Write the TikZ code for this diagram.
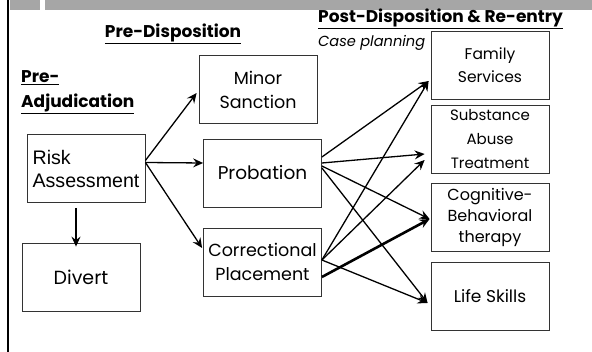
\documentclass[tikz,border=0pt]{standalone}
\usepackage{fontspec}
\setmainfont{Poppins}
\newfontfamily\arialfont{Liberation Sans}
\usetikzlibrary{arrows.meta}

\begin{document}
\begin{tikzpicture}[x=1pt, y=-1pt,
    stage/.style={draw=black!80, line width=0.8pt, minimum width=118pt, minimum height=68pt,
      inner sep=0pt, align=center, font=\fontsize{17.5}{24}\selectfont},
    heading/.style={font=\fontsize{17}{25}\selectfont\bfseries, inner sep=0pt},
    flow/.style={-{Stealth[length=10pt, width=9pt, inset=3.5pt]}, line width=1.3pt}]
  \useasboundingbox (0,0) rectangle (592,352);

  % Title bar and left rule
  \fill[gray!70] (10,0) rectangle (40,10);
  \fill[gray!70] (45,0) rectangle (592,10);
  \fill[black] (7,0) rectangle (9,352);

  % Stage headings
  \node[heading] (predisp) at (173,34) {\underline{Pre-Disposition}};
  \node[heading, anchor=west, align=left] (preadj) at (21,92) {\underline{Pre-}\\\underline{Adjudication}};
  \node[heading, anchor=west] (postdisp) at (318,19) {\underline{Post-Disposition \& Re-entry}};
  \node[anchor=west, inner sep=0pt, font=\fontsize{14.6}{18}\selectfont\itshape] (caseplan) at (318,43) {Case planning};

  % Pre-adjudication boxes
  \node[stage, align=left, font=\arialfont\fontsize{19.6}{23}\selectfont] (risk) at (86,168.5) {Risk\\Assessment};
  \node[stage, font=\fontsize{19}{24}\selectfont] (divert) at (81,277) {Divert};

  % Pre-disposition boxes
  \node[stage] (minor) at (258,89.5) {Minor\\Sanction};
  \node[stage, font=\fontsize{18.5}{24}\selectfont] (probation) at (262.5,173) {Probation};
  \node[stage] (placement) at (262.5,262) {Correctional\\Placement};

  % Post-disposition boxes
  \node[stage, font=\fontsize{15.5}{23}\selectfont] (family) at (490,65) {Family\\Services};
  \node[stage, font=\fontsize{15}{24}\selectfont] (substance) at (490,139) {Substance\\Abuse\\Treatment};
  \node[stage, font=\fontsize{16}{21}\selectfont] (cognitive) at (490,217.5) {Cognitive-\\Behavioral\\therapy};
  \node[stage, font=\fontsize{17}{24}\selectfont] (skills) at (490,296.5) {Life Skills};

  % From risk assessment
  \draw[flow] ([yshift=8pt]risk.east) -- ([xshift=-2pt, yshift=-3.5pt]minor.west);
  \draw[flow] ([yshift=6pt]risk.east) -- ([yshift=10pt]probation.west);
  \draw[flow] ([yshift=6pt]risk.east) -- ([xshift=-1pt, yshift=14pt]placement.west);
  \draw[flow] ([xshift=-10pt, yshift=-5pt]risk.south) -- ([xshift=-5pt, yshift=-4pt]divert.north);

  % From probation
  \draw[flow] ([yshift=16pt]probation.east) -- ([xshift=-2pt, yshift=-16pt]family.west);
  \draw[flow] ([yshift=10pt]probation.east) -- ([xshift=-6pt, yshift=-15pt]substance.west);
  \draw[flow] ([yshift=7pt]probation.east) -- ([xshift=-1pt, yshift=-1.5pt]cognitive.west);
  \draw[flow] ([yshift=5pt]probation.east) -- ([xshift=-3pt, yshift=-6.5pt]skills.west);

  % From correctional placement
  \draw[flow] ([yshift=2pt]placement.east) -- ([xshift=-2pt, yshift=-16pt]family.west);
  \draw[flow] ([yshift=2pt]placement.east) -- ([xshift=-6pt, yshift=-21pt]substance.west);
  \draw[flow] ([yshift=2pt]placement.east) -- ([xshift=-3pt, yshift=-6.5pt]skills.west);
  \draw[flow, line width=2.6pt] ([yshift=-15pt]placement.east) -- ([xshift=-1pt, yshift=-1.5pt]cognitive.west);
\end{tikzpicture}
\end{document}
